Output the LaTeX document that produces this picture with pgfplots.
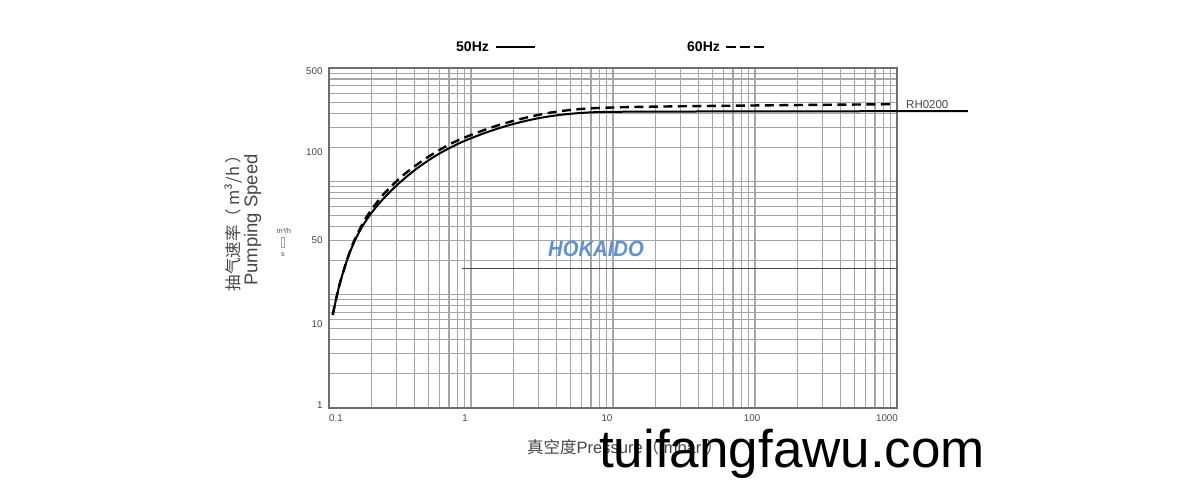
\documentclass[border=0pt]{standalone}
\usepackage{pgfplots}
\pgfplotsset{compat=1.18}
\usepackage{fontspec}
\setmainfont{Liberation Sans}
\newfontfamily\cjk{Noto Sans CJK SC}

\definecolor{gridgray}{RGB}{165,165,165}
\definecolor{boxgray}{RGB}{110,110,110}
\definecolor{txtgray}{RGB}{70,70,70}
\definecolor{logoblue}{RGB}{95,145,215}

\begin{document}
\begin{tikzpicture}
  % page = 1200 x 497 px, 1px = 1pt, axis origin at px (329,408)
  \path[use as bounding box] (-329pt,-89pt) rectangle (871pt,408pt);

  \begin{axis}[
    at={(0pt,0pt)}, anchor=south west,
    scale only axis, width=568pt, height=340pt,
    xmode=log, ymode=log,
    xmin=0.1, xmax=1000, ymin=1, ymax=1000,
    % labels sit where the sheet prints them
    xtick={0.112,0.909,9.07,95.3,850},
    xticklabels={0.1,1,10,100,1000},
    ytick={1.063,5.51,30.4,181.8,942.6},
    yticklabels={1,10,50,100,500},
    minor xtick={0.2,0.3,0.4,0.5,0.6,0.7,0.8,0.9,1,2,3,4,5,6,7,8,9,10,
                 20,30,40,50,60,70,80,90,100,200,300,400,500,600,700,800,900},
    minor ytick={2,3,4,5,6,7,8,9,10,20,30,40,50,60,70,80,90,
                 100,200,300,400,500,600,700,800,900},
    major tick length=0pt, minor tick length=0pt,
    grid=minor,
    minor grid style={gridgray, line width=1.1pt},
    axis line style={boxgray, line width=1.6pt},
    xticklabel style={font=\fontsize{9.8}{10}\selectfont, text=txtgray, yshift=-3pt},
    yticklabel style={font=\fontsize{9.8}{10}\selectfont, text=txtgray, xshift=-3pt},
    clip=false,
  ]
    % stray reference line on the sheet
    \addplot[txtgray, line width=1.2pt] coordinates {(0.86,17.1) (1000,17.1)};

    % 50 Hz
    \addplot[black, line width=2pt, smooth, tension=0.5] coordinates {
      (0.1062,6.62) (0.1195,12.69) (0.1406,23.82) (0.1708,39.59) (0.2178,60.67)
      (0.2916,89.25) (0.4033,126.1) (0.5762,171.0) (0.8366,218.3) (1.255,267.4)
      (1.882,314.7) (2.823,355.5) (4.235,385.6) (6.887,405.7) (13.18,411.5)
      (92.2,414.0) (1000,415.6) (3162,415.6)};

    % 60 Hz
    \addplot[black, line width=2.4pt, dash pattern=on 9pt off 5.5pt, smooth, tension=0.5] coordinates {
      (0.1062,6.62) (0.1195,12.69) (0.1452,26.9) (0.1822,47.5) (0.2401,75.9)
      (0.3320,112.7) (0.4744,157.6) (0.7113,213.0) (1.067,264.7) (1.600,316.0)
      (2.401,362.8) (3.600,403.2) (5.400,430.2) (8.10,444.4) (18.22,455.4)
      (92.2,466.7) (937,479.2)};
  \end{axis}

  % header legend
  \node[anchor=west, inner sep=0pt, font=\fontsize{14}{14}\selectfont\bfseries]
    at (127pt,361pt) {50Hz};
  \draw[black, line width=1.6pt] (167pt,361pt) -- (206pt,361pt);
  \node[anchor=west, inner sep=0pt, font=\fontsize{14}{14}\selectfont\bfseries]
    at (358pt,361pt) {60Hz};
  \draw[black, line width=1.6pt, dash pattern=on 10pt off 4pt] (397pt,361pt) -- (435pt,361pt);

  % model tag
  \node[anchor=base west, inner sep=0pt, text=txtgray, font=\fontsize{11.5}{12}\selectfont]
    at (577pt,299pt) {RH0200};

  % y label
  \node[rotate=90, inner sep=0pt, text=txtgray, font=\cjk\fontsize{16.5}{17}\selectfont]
    at (-95.5pt,189pt) {抽气速率（ m³/h ）};
  \node[rotate=90, inner sep=0pt, text=txtgray, font=\fontsize{18.5}{19}\selectfont]
    at (-76.5pt,188pt) {Pumping Speed};
  \node[inner sep=0pt, text=txtgray, font=\fontsize{7}{7}\selectfont] at (-45pt,177pt) {m³/h};
  \node[draw=gridgray, line width=0.6pt, minimum width=3.5pt, minimum height=10pt, inner sep=0pt]
    at (-46pt,165.5pt) {};
  \node[inner sep=0pt, text=txtgray, font=\fontsize{7}{7}\selectfont] at (-46pt,153pt) {s};

  % x label
  \node[anchor=west, inner sep=0pt, text=txtgray, font=\fontsize{16.5}{17}\selectfont]
    at (198pt,-39pt) {{\cjk 真空度}Pressure{\cjk （} mbar {\cjk ）}};

  % logo
  \node[inner sep=0pt, text=logoblue, font=\fontsize{22}{22}\selectfont\bfseries\itshape]
    at (267pt,159pt) {\scalebox{0.92}[1]{HOKAIDO}};

  % site mark
  \node[anchor=base west, inner sep=0pt, text=black, font=\fontsize{53}{53}\selectfont]
    at (270pt,-60pt) {tuifangfawu.com};
\end{tikzpicture}
\end{document}
